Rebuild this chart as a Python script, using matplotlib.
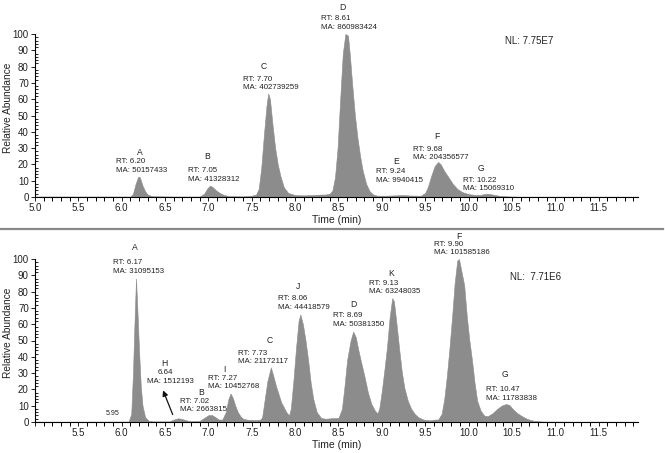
import matplotlib.pyplot as plt
from matplotlib.ticker import MultipleLocator

plt.rcParams['font.family'] = ['Liberation Sans', 'DejaVu Sans']

# top trace (time, relative abundance)
top_t = [5.00, 5.50, 6.00, 6.10, 6.13, 6.16, 6.19, 6.21, 6.24, 6.27, 6.30, 6.35,
         6.60, 6.90, 6.95, 6.99, 7.02, 7.05, 7.09, 7.13, 7.18, 7.25, 7.40,
         7.50, 7.55, 7.58, 7.61, 7.64, 7.67, 7.69, 7.71, 7.74, 7.77, 7.80, 7.83,
         7.87, 7.92, 8.00, 8.10, 8.20, 8.30, 8.35, 8.40, 8.43, 8.46, 8.49, 8.52,
         8.55, 8.58, 8.61, 8.63, 8.66, 8.69, 8.72, 8.75, 8.78, 8.82, 8.86, 8.90,
         8.95, 9.05, 9.15, 9.24, 9.33, 9.45, 9.50, 9.53, 9.57, 9.61, 9.65, 9.68,
         9.72, 9.77, 9.82, 9.87, 9.93, 10.00, 10.08, 10.14, 10.18, 10.22, 10.28,
         10.35, 10.45, 10.60, 11.00, 11.50, 11.95]
top_y = [0.3, 0.3, 0.3, 0.3, 2, 8, 12.5, 12, 7, 3.5, 1.5, 0.5,
         0.3, 0.3, 2, 5.5, 7, 6, 4, 2.5, 1.2, 0.5, 0.4,
         0.8, 1.5, 5, 18, 38, 56, 63.5, 60, 44, 30, 20, 13,
         6, 2.5, 1.2, 1.0, 1.2, 1.5, 1.5, 2, 4, 12, 30, 60,
         88, 100, 99, 88, 68, 50, 36, 25, 16, 8, 3.5, 1.5,
         0.8, 0.8, 1.0, 1.2, 0.9, 0.8, 2.5, 6, 13, 19, 21.5, 20,
         16, 12, 8, 5, 3, 1.8, 1.2, 1.3, 1.8, 2.0, 1.5,
         0.8, 0.4, 0.2, 0.2, 0.2, 0.2]

# bottom trace
bot_t = [5.00, 5.50, 6.00, 6.08, 6.11, 6.13, 6.15, 6.165, 6.18, 6.20, 6.22, 6.24,
         6.27, 6.31, 6.36, 6.55, 6.60, 6.65, 6.70, 6.76, 6.82, 6.90, 6.95, 7.00,
         7.04, 7.08, 7.12, 7.16, 7.20, 7.23, 7.255, 7.28, 7.31, 7.34, 7.37, 7.40,
         7.45, 7.55, 7.60, 7.62, 7.65, 7.68, 7.72, 7.75, 7.78, 7.81, 7.84, 7.87,
         7.90, 7.93, 7.95, 7.98, 8.01, 8.04, 8.06, 8.09, 8.12, 8.15, 8.18, 8.21,
         8.25, 8.30, 8.35, 8.42, 8.50, 8.54, 8.57, 8.60, 8.64, 8.67, 8.70, 8.73,
         8.76, 8.80, 8.84, 8.88, 8.92, 8.95, 8.97, 9.00, 9.03, 9.06, 9.09, 9.12,
         9.14, 9.17, 9.20, 9.23, 9.26, 9.30, 9.34, 9.38, 9.42, 9.48, 9.55, 9.62,
         9.65, 9.69, 9.72, 9.75, 9.78, 9.81, 9.84, 9.87, 9.89, 9.92, 9.95, 9.98,
         10.01, 10.04, 10.07, 10.10, 10.14, 10.18, 10.22, 10.28, 10.33, 10.38,
         10.43, 10.47, 10.51, 10.56, 10.62, 10.68, 10.75, 10.85, 11.20, 11.95]
bot_y = [0.2, 0.2, 0.3, 0.3, 5, 30, 65, 88, 70, 44, 22, 10,
         3, 0.8, 0.4, 0.4, 1.5, 2.3, 1.8, 0.8, 0.5, 0.7, 2.5, 4.2,
         4.3, 3, 1.5, 1.5, 6, 14, 17.5, 15, 10, 6, 3.5, 2,
         1.4, 1.2, 1.5, 3, 14, 25, 33.5, 28, 22, 17, 12, 9,
         6, 4, 8, 25, 45, 62, 66, 60, 50, 38, 24, 14,
         6, 2.5, 2.0, 2.3, 2.5, 8, 22, 38, 50, 55.5, 52, 44,
         37, 28, 18, 11, 7, 5.3, 8, 19, 32, 46, 64, 76,
         74, 60, 45, 31, 21, 13, 8, 5, 3, 1.5, 1, 1.5,
         1.5, 5, 14, 28, 45, 64, 85, 99, 100, 92, 84, 65,
         50, 38, 24, 13, 7, 4, 3.5, 5.5, 8, 10,
         11, 10.5, 8, 5.5, 3.5, 1.8, 0.8, 0.3, 0.2, 0.2]

top_names = ['A', 'B', 'C', 'D', 'E', 'F', 'G']
top_rt = ['6.20', '7.05', '7.70', '8.61', '9.24', '9.68', '10.22']
top_ma = ['50157433', '41328312', '402739259', '860983424', '9940415',
          '204356577', '15069310']
bot_names = ['A', 'H', 'B', 'I', 'C', 'J', 'D', 'K', 'F', 'G']
bot_rt = ['6.17', '6.64', '7.02', '7.27', '7.73', '8.06', '8.69', '9.13',
          '9.90', '10.47']
bot_ma = ['31095153', '1512193', '2663815', '10452768', '21172117', '44418579',
          '50381350', '63248035', '101585186', '11783838']
top_nl = 'NL: 7.75E7'
bot_nl = 'NL:  7.71E6'

# label placement (letter x, letter y, text left x, MA line y)
top_pos = [(6.21, 27.6, 5.93, 16.5), (6.98, 25, 6.765, 11), (7.64, 80, 7.40, 67),
           (8.54, 116, 8.30, 104), (9.16, 21.5, 8.93, 10.4), (9.64, 37, 9.36, 24),
           (10.14, 17.6, 9.94, 5)]
bot_pos = [(6.15, 107, 5.90, 92.6), (6.49, 36, 6.29, 25), (6.92, 18.4, 6.67, 7.4),
           (7.18, 32.5, 6.995, 21.5), (7.71, 49.7, 7.34, 37), (8.03, 83, 7.80, 70.5),
           (8.67, 72, 8.44, 60), (9.11, 91, 8.85, 79.8), (9.89, 113.5, 9.60, 103.7),
           (10.42, 29.4, 10.20, 14.7)]

GREY = '#8c8c8c'
TXT = '#222222'

fig = plt.figure(figsize=(6.65, 4.53), dpi=100)
ax1 = fig.add_axes([35/665, 256/453, 603/665, 163/453])
ax2 = fig.add_axes([35/665, 31/453, 603/665, 163/453])


def style(ax, first_label):
    ax.set_xlim(5.0, 11.955)
    ax.set_ylim(0, 100)
    for s in ['top', 'right']:
        ax.spines[s].set_visible(False)
    for s in ['left', 'bottom']:
        ax.spines[s].set_linewidth(0.8)
    ax.xaxis.set_major_locator(MultipleLocator(0.5))
    ax.xaxis.set_minor_locator(MultipleLocator(0.1))
    ax.yaxis.set_major_locator(MultipleLocator(10))
    ax.yaxis.set_minor_locator(MultipleLocator(2))
    ax.tick_params(axis='both', which='major', labelsize=7, length=3,
                   width=0.7, colors=TXT, pad=1.5)
    ax.tick_params(axis='x', which='minor', length=3, width=0.7)
    ax.tick_params(axis='y', which='minor', length=2, width=0.6, direction='in')
    ticks = [5.0 + 0.5 * i for i in range(14)]
    ax.set_xticks(ticks)
    ax.set_xticklabels(['%.1f' % t if (t > 5.0 or first_label) else '' for t in ticks])
    ax.set_xlabel('Time (min)', fontsize=7.5, color=TXT)
    ax.xaxis.set_label_coords(0.5, -0.11)
    ax.set_ylabel('Relative Abundance', fontsize=7.3, color=TXT)
    ax.yaxis.set_label_coords(-0.036, 0.55)


def draw(ax, t, y, names, rts, mas, pos):
    ax.fill_between(t, 0, y, color=GREY, lw=0.4, edgecolor=GREY, clip_on=False)
    for n, rt, ma, (lx, ly, tx, my) in zip(names, rts, mas, pos):
        ax.text(lx, ly, n, fontsize=6.2, color=TXT, ha='center', va='center')
        rt_txt = 'RT: ' + rt
        rx = tx
        if n == 'H':
            rt_txt = rt
            rx = tx + 0.13
        ax.text(rx, my + 5.3, rt_txt, fontsize=5.7, color=TXT, ha='left', va='center')
        ax.text(tx, my, 'MA: ' + ma, fontsize=5.7, color=TXT, ha='left', va='center')


style(ax1, True)
style(ax2, False)
draw(ax1, top_t, top_y, top_names, top_rt, top_ma, top_pos)
draw(ax2, bot_t, bot_y, bot_names, bot_rt, bot_ma, bot_pos)

ax1.text(10.42, 96, top_nl, fontsize=7, color=TXT, ha='left', va='center')
ax2.text(10.48, 89, bot_nl, fontsize=7, color=TXT, ha='left', va='center')
ax2.text(5.9, 5, '5.95', fontsize=5, color=TXT, ha='center', va='center')
ax2.annotate('', xy=(6.465, 21), xytext=(6.60, 3),
             arrowprops=dict(arrowstyle='-|>', color='#111111', lw=0.9,
                             mutation_scale=8))

fig.add_artist(plt.Line2D([0, 663/665], [224/453, 224/453], color='#888888',
                          lw=1.6, transform=fig.transFigure))

fig.savefig('out.png', dpi=100, facecolor='white')
